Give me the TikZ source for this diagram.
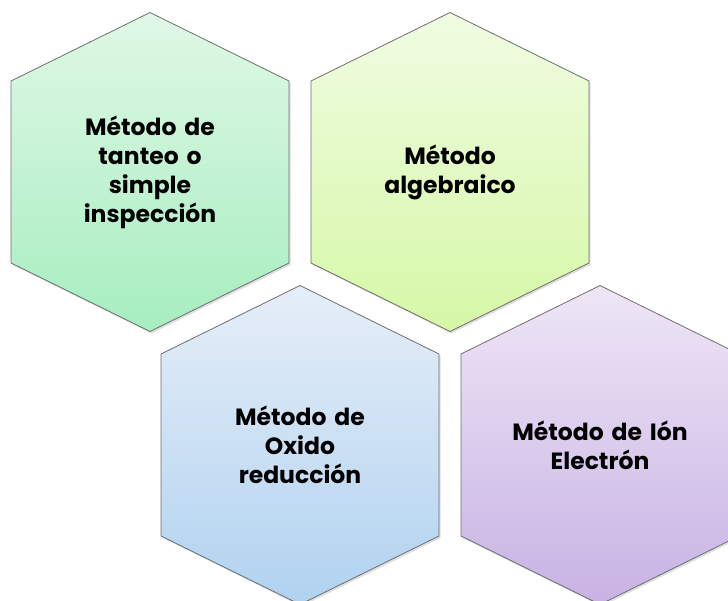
\documentclass[tikz,border=0pt]{standalone}
\usepackage{fontspec}
\setmainfont{Poppins}
\usetikzlibrary{shadows}

\definecolor{greenTop}{HTML}{E0F8E6}
\definecolor{greenBot}{HTML}{A6EEC0}
\definecolor{limeTop}{HTML}{F0FCE2}
\definecolor{limeBot}{HTML}{D6F8A6}
\definecolor{blueTop}{HTML}{E6EEF8}
\definecolor{blueBot}{HTML}{B0D2F0}
\definecolor{lilaTop}{HTML}{EEE6F6}
\definecolor{lilaBot}{HTML}{C8B2E4}
\definecolor{edge}{HTML}{6E6E6E}

\begin{document}
\begin{tikzpicture}[x=1pt ,y=-1pt ,
hexa/.style ={ draw =edge ,line width =0.8pt ,line join =round ,
drop shadow ={opacity =0.25 ,shadow xshift =1.5pt ,shadow yshift =-2pt}},
label/.style ={ align =center ,text width =220pt ,font =\bfseries\fontsize{23.5}{29}\selectfont}]
\useasboundingbox (0,0) rectangle (728,601);
\clip (0,0) rectangle (728,601);
\coordinate (c1) at (150,172);
\coordinate (c2) at (450,172);
\coordinate (c3) at (300,445);
\coordinate (c4) at (600,445);
\foreach \c/\t/\b in {c1/greenTop/greenBot, c2/limeTop/limeBot,
  c3/blueTop/blueBot, c4/lilaTop/lilaBot}
  \path[hexa ,top color =\t ,bottom color =\b] (\c) ++(0,-159.5) -- ++(139,68.5)
    -- ++(0,182) -- ++(-139,68.5) -- ++(-139,-68.5) -- ++(0,-182) -- cycle;
\node[label] (tanteo) at (c1) {Método de\\tanteo o\\simple\\inspección};
\node[label] (algebra) at (c2) {Método\\algebraico};
\node[label] (redox) at (c3) {Método de\\Oxido\\reducción};
\node[label] (ion) at (c4) {Método de Ión\\Electrón};
\end{tikzpicture}
\end{document}
